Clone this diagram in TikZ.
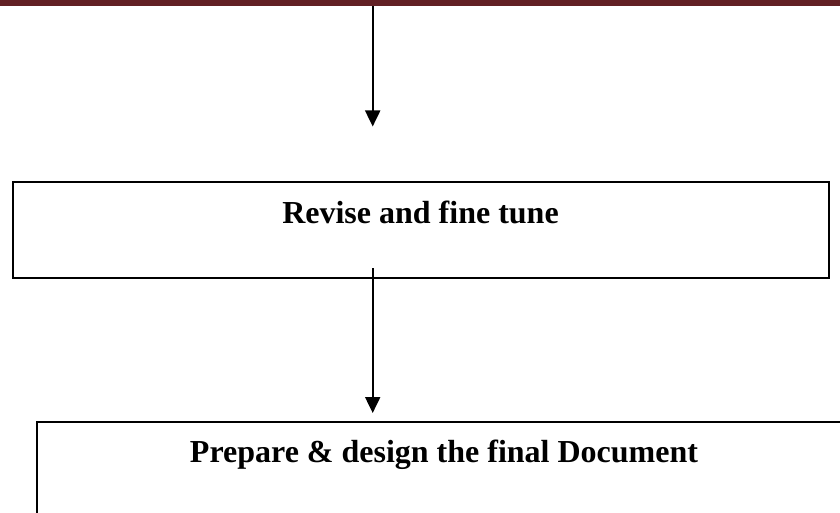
\documentclass[tikz,border=0pt]{standalone}
\usepackage{fontspec}
\setmainfont{Liberation Serif}
\usetikzlibrary{arrows.meta}
\definecolor{barred}{HTML}{622024}
\tikzset{
  box/.style={draw=black, line width=2pt, rectangle, inner sep=0pt},
  lbl/.style={font=\fontsize{32}{36}\selectfont\bfseries, inner sep=0pt, anchor=base},
  arr/.style={draw=black, line width=2pt, -{Triangle[length=16pt,width=15pt]}}
}
\begin{document}
\begin{tikzpicture}[x=1pt,y=-1pt]
\useasboundingbox (0,0) rectangle (840,513);
\clip (0,0) rectangle (840,513);
\fill[barred] (0,0) rectangle (840,6.5);
\node[inner sep=0pt, minimum width=840pt, minimum height=6.5pt] (bar) at (420,3.25) {};
\node[box, minimum width=816pt, minimum height=96pt] (box1) at (420.8,229.7) {};
\node[lbl] (t1) at (420.5,223) {Revise and fine tune};
\node[box, minimum width=814pt, minimum height=140pt] (box2) at (443.7,491.7) {};
\node[lbl] (t2) at (444,462) {Prepare \& design the final Document};
\coordinate (a1s) at (372.7,6.5);
\coordinate (a1e) at (372.7,126.5);
\coordinate (a2s) at (372.7,268);
\coordinate (a2e) at (372.7,413);
\draw[arr] (a1s) -- (a1e);
\draw[arr] (a2s) -- (a2e);
\end{tikzpicture}
\end{document}
